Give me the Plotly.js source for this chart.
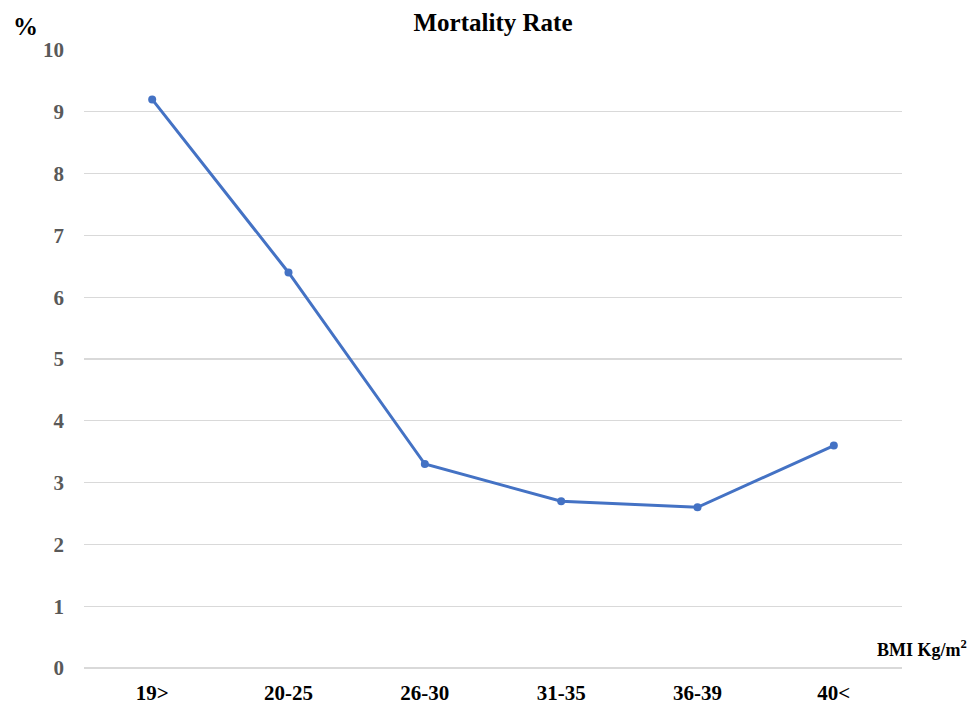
<!DOCTYPE html>
<html>
<head>
<meta charset="utf-8">
<script src="https://cdn.plot.ly/plotly-3.0.1.min.js"></script>
<style>html,body{margin:0;padding:0;background:#fff;}#chart{width:972px;height:704px;}</style>
</head>
<body>
<div id="chart"></div>
<script>
const categories = ["19>", "20-25", "26-30", "31-35", "36-39", "40<"];
const mortality = [9.2, 6.4, 3.3, 2.7, 2.6, 3.6];
const yTicks = [0, 1, 2, 3, 4, 5, 6, 7, 8, 9, 10];

const serif = "'Times New Roman', 'Liberation Serif', serif";

const trace = {
  x: categories,
  y: mortality,
  type: 'scatter',
  mode: 'lines+markers',
  line: {color: '#4472C4', width: 3},
  marker: {color: '#4472C4', size: 8},
  hoverinfo: 'x+y'
};

const ML = 84, MR = 70, MT = 50, MB = 36, W = 972, H = 704;
const pw = W - ML - MR, ph = H - MT - MB;
function px(x) { return (x - ML) / pw; }
function py(y) { return (H - MB - y) / ph; }

const layout = {
  width: W,
  height: H,
  margin: {l: ML, r: MR, t: MT, b: MB},
  paper_bgcolor: '#fff',
  plot_bgcolor: '#fff',
  showlegend: false,
  title: {
    text: 'Mortality Rate',
    font: {family: serif, size: 25, color: '#000', weight: 'bold'},
    x: 0.5, xref: 'paper', xanchor: 'center',
    y: 0.969, yref: 'container', yanchor: 'middle'
  },
  xaxis: {
    type: 'category',
    range: [-0.5, 5.5],
    showgrid: false,
    zeroline: false,
    showline: false,
    ticks: '',
    tickfont: {family: serif, size: 21, color: '#000', weight: 'bold'},
    ticklabelstandoff: 10
  },
  yaxis: {
    range: [0, 10],
    tickvals: yTicks,
    ticktext: yTicks.map(String),
    showgrid: true,
    gridcolor: '#d9d9d9',
    gridwidth: 1.3,
    zeroline: true,
    zerolinecolor: '#d9d9d9',
    zerolinewidth: 1.3,
    showline: false,
    ticks: '',
    tickfont: {family: serif, size: 21, color: '#595959', weight: 'bold'},
    ticklabelstandoff: 19
  },
  annotations: [
    {text: '%', x: px(25), y: py(27), xref: 'paper', yref: 'paper',
     xanchor: 'center', yanchor: 'middle', showarrow: false,
     font: {family: serif, size: 25, color: '#000', weight: 'bold'}},
    {text: 'BMI Kg/m<sup>2</sup>', x: px(922), y: py(648), xref: 'paper', yref: 'paper',
     xanchor: 'center', yanchor: 'middle', showarrow: false,
     font: {family: serif, size: 18, color: '#000', weight: 'bold'}}
  ]
};

Plotly.newPlot('chart', [trace], layout, {displayModeBar: false, staticPlot: true});
</script>
</body>
</html>
